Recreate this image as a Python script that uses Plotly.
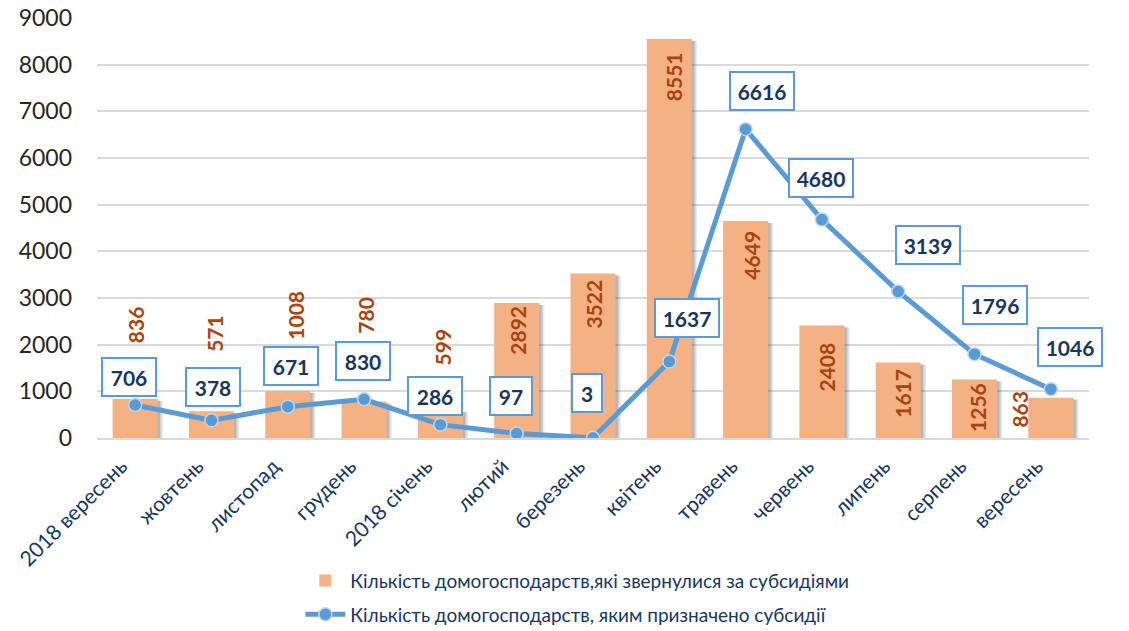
import plotly.graph_objects as go

categories = ["2018 вересень", "жовтень", "листопад", "грудень", "2018 січень", "лютий",
              "березень", "квітень", "травень", "червень", "липень", "серпень", "вересень"]
applied = [836, 571, 1008, 780, 599, 2892, 3522, 8551, 4649, 2408, 1617, 1256, 863]
granted = [706, 378, 671, 830, 286, 97, 3, 1637, 6616, 4680, 3139, 1796, 1046]

bar_name = "Кількість домогосподарств,які звернулися за субсидіями"
line_name = "Кількість домогосподарств, яким призначено субсидії"

# label placement offsets (pixels) relative to the mark
bar_lbl_shift = [(1, 74), (3, 78), (8, 76), (2, 86), (2, 63), (0, -27), (1, -31),
                 (5, -38), (5, -34), (5, -41), (4, -31), (3, -28), (-31, -11)]
line_lbl_shift = [(-6, 28), (2, 33), (3, 41), (-1, 38), (-5, 29), (-6, 37), (-6, 45),
                  (18, 44), (16, 38), (-1, 42), (30, 46), (20, 49), (19, 42)]

FONT = "Lato, 'Open Sans', sans-serif"
NAVY = "#17375E"
BROWN = "#A8440F"

xs = list(range(len(categories)))
BW = 0.59

fig = go.Figure()
# soft drop shadow behind bars
for k, a in [(0.07, 0.10), (0.05, 0.14), (0.03, 0.18)]:
    fig.add_trace(go.Bar(
        x=xs, y=applied, width=BW, offset=-BW / 2 + k, base=-40,
        marker=dict(color=f"rgba(60,60,60,{a})", line=dict(width=0)),
        showlegend=False, hoverinfo="skip",
    ))
fig.add_trace(go.Bar(
    x=xs, y=applied, name=bar_name, legendgroup="a",
    marker=dict(color="#F4B183", line=dict(width=0)),
    width=BW, offset=-BW / 2,
))
fig.add_trace(go.Scatter(
    x=xs, y=granted, name=line_name, mode="lines+markers", legendgroup="b",
    line=dict(color="#5B9BD5", width=5),
    marker=dict(size=13, color="#5B9BD5", line=dict(color="#BDD7EE", width=1.5)),
))

annotations = []
for i, v in enumerate(applied):
    dx, dy = bar_lbl_shift[i]
    annotations.append(dict(
        x=xs[i], y=v, xref="x", yref="y", text=f"<b>{v}</b>", showarrow=False,
        textangle=-90, xshift=dx, yshift=dy, xanchor="center", yanchor="middle",
        font=dict(family=FONT, size=21, color=BROWN),
    ))
for i, v in enumerate(granted):
    dx, dy = line_lbl_shift[i]
    n = len(str(v))
    w = {1: 24, 2: 36, 3: 48, 4: 58}[n]
    annotations.append(dict(
        x=xs[i], y=v, xref="x", yref="y", text=f"<b>{v}</b>", showarrow=False,
        xshift=dx, yshift=dy, xanchor="center", yanchor="middle",
        width=w, height=32, borderpad=2,
        bgcolor="white", bordercolor="#5B9BD5", borderwidth=2,
        font=dict(family=FONT, size=21, color=NAVY),
    ))

fig.update_layout(
    width=1129, height=631,
    margin=dict(l=97, r=40, t=17, b=193, autoexpand=False),
    paper_bgcolor="white", plot_bgcolor="white",
    barmode="overlay",
    showlegend=True,
    legend=dict(
        orientation="v", x=0.205, xanchor="left", y=-0.294, yanchor="top",
        font=dict(family=FONT, size=19, color=NAVY),
        tracegroupgap=6, itemwidth=40,
        bgcolor="rgba(0,0,0,0)",
    ),
    annotations=annotations,
    xaxis=dict(
        tickmode="array", tickvals=xs, ticktext=categories,
        range=[-0.5, len(categories) - 0.5], automargin=False,
        tickangle=-45, showgrid=False, zeroline=False,
        showline=True, linecolor="#D9D9D9", linewidth=1.5,
        ticks="", tickfont=dict(family=FONT, size=21, color=NAVY),
        ticklabelshift=-14, ticklabelstandoff=6, ticklabeloverflow="allow",
    ),
    yaxis=dict(
        range=[0, 9020], tickmode="linear", tick0=0, dtick=1000, automargin=False,
        showgrid=True, gridcolor="#D9D9D9", gridwidth=1.5,
        zeroline=False, showline=False, ticks="",
        tickfont=dict(family=FONT, size=23, color="#262626"),
        ticklabelstandoff=24, ticklabeloverflow="allow",
    ),
)

fig.write_html(
    "out.html",
    config={"displayModeBar": False},
    post_script="document.body.style.margin='0';document.body.style.overflow='hidden';",
)
